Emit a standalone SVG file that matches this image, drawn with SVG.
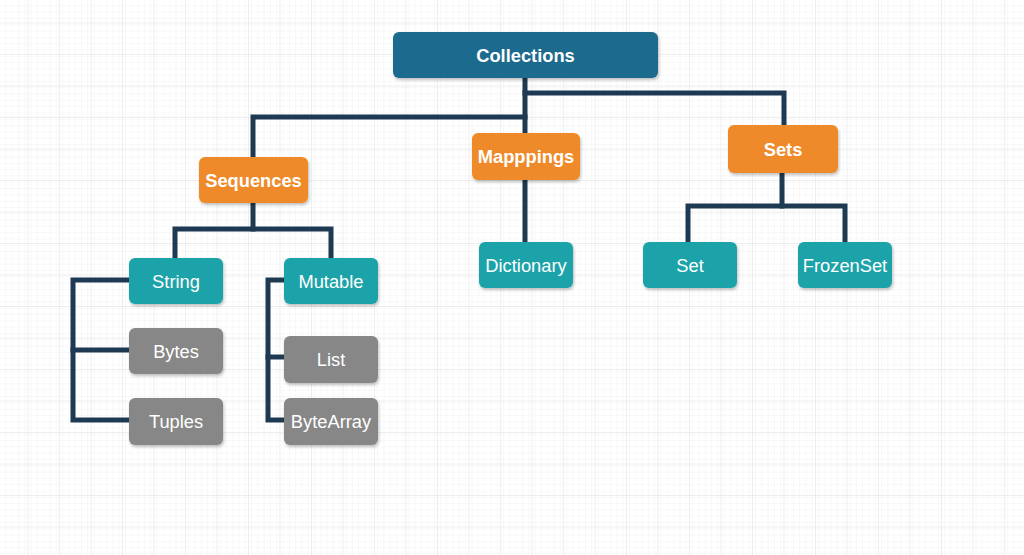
<svg xmlns="http://www.w3.org/2000/svg" width="1024" height="555" viewBox="0 0 1024 555">
<defs>
<pattern id="minor" width="6.3" height="6.3" patternUnits="userSpaceOnUse">
<path d="M6.3 0V6.3M0 6.3H6.3" fill="none" stroke="#efefef" stroke-width="0.8"/>
</pattern>
<pattern id="major" x="-3" y="-8" width="31.5" height="31.5" patternUnits="userSpaceOnUse">
<path d="M31.5 0V31.5M0 31.5H31.5" fill="none" stroke="#dedede" stroke-width="1"/>
</pattern>
<filter id="sh" x="-10%" y="-10%" width="120%" height="130%">
<feDropShadow dx="1" dy="2" stdDeviation="1.5" flood-color="#000" flood-opacity="0.25"/>
</filter>
</defs>
<style>
.box{filter:url(#sh)}
.blue{fill:#1b6a8e}
.orange{fill:#ef8a2a}
.teal{fill:#1ea3a9}
.gray{fill:#878787}
.t{font-family:"Liberation Sans",Arial,sans-serif;fill:#fff;text-anchor:middle;dominant-baseline:central;font-size:18.3px}
.b{font-weight:bold}
.c{fill:none;stroke:#1d3a52;stroke-width:5;stroke-linejoin:miter;stroke-linecap:square}
</style>
<rect width="1024" height="555" fill="#fff"/>
<rect width="1024" height="555" fill="url(#minor)"/>
<rect width="1024" height="555" fill="url(#major)"/>
<g id="connectors">
<path class="c" d="M525 78V133"/>
<path class="c" d="M525 93H784V125"/>
<path class="c" d="M525 117H253V157"/>
<path class="c" d="M525 180V242"/>
<path class="c" d="M782 173V206"/>
<path class="c" d="M688 242V206H845V242"/>
<path class="c" d="M253 203V229"/>
<path class="c" d="M175 258V229H331V258"/>
<path class="c" d="M129 280H73V420H129"/>
<path class="c" d="M73 350H129"/>
<path class="c" d="M284 280H268V420H284"/>
<path class="c" d="M268 357H284"/>
</g>
<g id="collections"><rect class="box blue" x="393" y="32" width="265" height="46" rx="6"/><text class="t b" x="525.5" y="55" font-size="19.2">Collections</text></g>
<g id="sequences"><rect class="box orange" x="199" y="157" width="109" height="46" rx="6"/><text class="t b" x="253.5" y="180">Sequences</text></g>
<g id="mappings"><rect class="box orange" x="472" y="133" width="108" height="47" rx="6"/><text class="t b" x="526" y="156.5">Mapppings</text></g>
<g id="sets"><rect class="box orange" x="728" y="125" width="110" height="48" rx="6"/><text class="t b" x="783" y="149">Sets</text></g>
<g id="string"><rect class="box teal" x="129" y="258" width="94" height="46" rx="6"/><text class="t" x="176" y="281">String</text></g>
<g id="mutable"><rect class="box teal" x="284" y="258" width="94" height="46" rx="6"/><text class="t" x="331" y="281">Mutable</text></g>
<g id="dictionary"><rect class="box teal" x="479" y="242" width="94" height="46" rx="6"/><text class="t" x="526" y="265">Dictionary</text></g>
<g id="set"><rect class="box teal" x="643" y="242" width="94" height="46" rx="6"/><text class="t" x="690" y="265">Set</text></g>
<g id="frozenset"><rect class="box teal" x="798" y="242" width="94" height="46" rx="6"/><text class="t" x="845" y="265">FrozenSet</text></g>
<g id="bytes"><rect class="box gray" x="129" y="328" width="94" height="46" rx="6"/><text class="t" x="176" y="351">Bytes</text></g>
<g id="tuples"><rect class="box gray" x="129" y="398" width="94" height="47" rx="6"/><text class="t" x="176" y="421">Tuples</text></g>
<g id="list"><rect class="box gray" x="284" y="336" width="94" height="47" rx="6"/><text class="t" x="331" y="359">List</text></g>
<g id="bytearray"><rect class="box gray" x="284" y="398" width="94" height="47" rx="6"/><text class="t" x="331" y="421">ByteArray</text></g>
</svg>
